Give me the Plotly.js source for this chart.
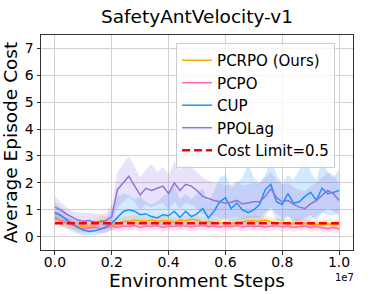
<!DOCTYPE html>
<html>
<head>
<meta charset="utf-8">
<script src="https://cdn.plot.ly/plotly-3.0.1.min.js"></script>
<style>html,body{margin:0;padding:0;background:#fff;}#chart{width:392px;height:294px;}</style>
</head>
<body>
<div id="chart"></div>
<script>
// Environment steps (x)
const steps = [0,2e5,4e5,6e5,8e5,1e6,1.2e6,1.4e6,1.6e6,1.8e6,2e6,2.2e6,2.4e6,2.6e6,2.8e6,3e6,3.2e6,3.4e6,3.6e6,3.8e6,4e6,4.2e6,4.4e6,4.6e6,4.8e6,5e6,5.2e6,5.4e6,5.6e6,5.8e6,6e6,6.2e6,6.4e6,6.6e6,6.8e6,7e6,7.2e6,7.4e6,7.6e6,7.8e6,8e6,8.2e6,8.4e6,8.6e6,8.8e6,9e6,9.2e6,9.4e6,9.6e6,9.8e6,1e7];

const seriesNames = ['PCRPO (Ours)','PCPO','CUP','PPOLag'];
const costLimit = 0.5;
const costLimitName = 'Cost Limit=0.5';

// PCRPO (Ours)
const pcrpoMean  = [0.7,0.62,0.5,0.45,0.4,0.38,0.35,0.45,0.6,0.58,0.42,0.5,0.58,0.58,0.62,0.6,0.58,0.62,0.58,0.6,0.6,0.55,0.62,0.6,0.65,0.62,0.55,0.58,0.52,0.5,0.52,0.48,0.55,0.55,0.6,0.6,0.58,0.62,0.55,0.5,0.52,0.48,0.5,0.48,0.5,0.45,0.47,0.45,0.48,0.45,0.47];
const pcrpoUpper = [0.95,0.85,0.7,0.62,0.58,0.55,0.52,0.62,0.78,0.76,0.6,0.68,0.76,0.76,0.8,0.78,0.75,0.8,0.76,0.78,0.78,0.72,0.8,0.78,0.82,0.8,0.72,0.76,0.7,0.68,0.7,0.66,0.72,0.72,0.78,0.78,0.76,0.8,0.72,0.68,0.7,0.66,0.68,0.66,0.68,0.62,0.65,0.63,0.66,0.62,0.64];
const pcrpoLower = [0.5,0.42,0.32,0.28,0.22,0.2,0.18,0.28,0.42,0.4,0.26,0.32,0.4,0.4,0.44,0.42,0.4,0.44,0.4,0.42,0.42,0.38,0.44,0.42,0.47,0.44,0.38,0.4,0.35,0.33,0.35,0.31,0.38,0.38,0.42,0.42,0.4,0.44,0.38,0.33,0.35,0.31,0.33,0.31,0.33,0.28,0.3,0.28,0.31,0.28,0.3];

// PCPO
const pcpoMean  = [0.7,0.6,0.55,0.45,0.35,0.3,0.32,0.35,0.3,0.32,0.4,0.35,0.4,0.38,0.42,0.35,0.4,0.38,0.42,0.35,0.4,0.38,0.42,0.4,0.37,0.4,0.42,0.38,0.4,0.36,0.4,0.38,0.42,0.36,0.4,0.38,0.4,0.36,0.38,0.42,0.36,0.4,0.35,0.38,0.4,0.35,0.38,0.34,0.3,0.35,0.28];
const pcpoUpper = [0.9,0.78,0.72,0.62,0.52,0.46,0.48,0.52,0.46,0.48,0.56,0.52,0.56,0.54,0.58,0.52,0.56,0.54,0.58,0.52,0.56,0.54,0.58,0.56,0.53,0.56,0.58,0.54,0.56,0.52,0.56,0.54,0.58,0.52,0.56,0.54,0.56,0.52,0.54,0.58,0.52,0.56,0.51,0.54,0.56,0.51,0.54,0.5,0.46,0.51,0.44];
const pcpoLower = [0.5,0.42,0.38,0.28,0.18,0.14,0.16,0.18,0.14,0.16,0.24,0.18,0.24,0.22,0.26,0.18,0.24,0.22,0.26,0.18,0.24,0.22,0.26,0.24,0.21,0.24,0.26,0.22,0.24,0.2,0.24,0.22,0.26,0.2,0.24,0.22,0.24,0.2,0.22,0.26,0.2,0.24,0.19,0.22,0.24,0.19,0.22,0.18,0.14,0.19,0.12];

// CUP
const cupMean  = [0.9,0.8,0.65,0.5,0.35,0.25,0.2,0.22,0.28,0.38,0.5,0.72,0.93,1.0,0.95,0.82,0.85,0.75,0.7,0.82,0.78,0.95,0.72,0.95,0.75,0.85,1.05,0.7,0.95,1.3,1.45,1.05,1.25,1.0,0.9,1.0,1.2,1.75,1.95,1.3,1.2,1.6,1.25,1.3,1.5,1.65,1.35,1.8,1.6,1.65,1.72];
const cupUpper = [1.3,1.1,0.9,0.75,0.6,0.5,0.45,0.45,0.55,0.7,1.0,1.5,1.6,1.55,1.4,1.5,1.3,1.2,1.3,1.5,1.6,1.9,1.4,1.6,1.4,1.6,1.8,1.3,1.7,2.2,2.3,1.8,2.0,2.2,2.7,2.2,2.0,2.3,2.9,2.3,2.0,2.3,2.1,2.5,3.0,2.4,2.1,2.9,2.4,2.2,2.5];
const cupLower = [0.6,0.45,0.3,0.2,0.1,0.05,0.05,0.05,0.1,0.15,0.25,0.35,0.5,0.55,0.5,0.45,0.45,0.4,0.35,0.4,0.35,0.45,0.3,0.45,0.35,0.4,0.5,0.3,0.4,0.6,0.7,0.5,0.6,0.5,0.4,0.4,0.5,0.8,1.0,0.6,0.5,0.8,0.5,0.6,0.7,0.8,0.6,0.9,0.8,0.8,0.9];

// PPOLag
const ppolagMean  = [1.1,1.0,0.85,0.72,0.62,0.58,0.6,0.55,0.56,0.6,0.75,1.75,2.0,2.25,1.9,1.55,1.8,1.72,1.8,1.88,1.6,2.0,1.72,1.95,1.88,1.72,1.5,1.42,1.35,1.3,1.25,1.28,1.35,1.22,1.25,1.3,1.3,1.5,1.78,1.45,1.3,1.35,1.2,1.1,1.05,1.22,1.35,1.55,1.72,1.6,1.35];
const ppolagUpper = [1.5,1.3,1.1,0.95,0.9,0.88,0.9,0.85,0.85,0.9,1.2,2.4,2.7,3.0,2.6,2.2,2.5,2.7,2.4,2.6,2.3,2.8,2.5,2.7,2.6,2.4,2.2,2.1,2.0,2.0,1.9,1.95,2.05,1.9,1.95,2.0,2.0,2.2,2.4,2.1,1.95,2.0,1.85,1.75,1.7,1.9,2.0,2.2,2.4,2.3,2.0];
const ppolagLower = [0.7,0.7,0.55,0.45,0.38,0.32,0.32,0.3,0.3,0.32,0.45,1.1,1.3,1.5,1.3,1.0,1.2,1.1,1.2,1.25,1.0,1.3,1.05,1.25,1.2,1.05,0.85,0.8,0.75,0.7,0.68,0.7,0.75,0.65,0.68,0.72,0.72,0.9,1.1,0.85,0.72,0.75,0.65,0.55,0.5,0.62,0.75,0.9,1.05,0.95,0.75];

// Axis ticks
const xTickVals = [0,2e6,4e6,6e6,8e6,1e7];
const xTickText = ['0.0','0.2','0.4','0.6','0.8','1.0'];
const yTickVals = [0,1,2,3,4,5,6,7];
const yTickText = ['0','1','2','3','4','5','6','7'];

const colors = ['#FFA500','#FF69B4','#1E90FF','#9370DB'];
const fills  = ['rgba(255,165,0,0.2)','rgba(255,105,180,0.2)','rgba(30,144,255,0.2)','rgba(147,112,219,0.2)'];
const means  = [pcrpoMean, pcpoMean, cupMean, ppolagMean];
const uppers = [pcrpoUpper, pcpoUpper, cupUpper, ppolagUpper];
const lowers = [pcrpoLower, pcpoLower, cupLower, ppolagLower];

const FONT = 'DejaVu Sans, sans-serif';
const traces = [];
for (let i = 0; i < 4; i++) {
  traces.push({
    x: steps.concat(steps.slice().reverse()),
    y: uppers[i].concat(lowers[i].slice().reverse()),
    type: 'scatter', mode: 'lines', fill: 'toself',
    fillcolor: fills[i], line: {width: 0, color: fills[i]},
    showlegend: false, hoverinfo: 'skip'
  });
}
for (let i = 0; i < 4; i++) {
  traces.push({
    x: steps, y: means[i], type: 'scatter', mode: 'lines',
    name: seriesNames[i], line: {color: colors[i], width: 1.5}
  });
}
traces.push({
  x: [steps[0], steps[steps.length-1]], y: [costLimit, costLimit],
  type: 'scatter', mode: 'lines', name: costLimitName,
  line: {color: '#FF0000', width: 2.5, dash: '8px,4px'}
});

const layout = {
  width: 392, height: 294,
  margin: {l: 41, r: 39, t: 35, b: 44},
  paper_bgcolor: '#fff', plot_bgcolor: '#fff',
  font: {family: FONT, color: '#000'},
  title: {text: 'SafetyAntVelocity-v1', font: {family: FONT, size: 18.5, color: '#000'},
          x: 0.5, xref: 'paper', y: 1 - 17/294, yref: 'container', yanchor: 'middle'},
  xaxis: {
    range: [-4.9e5, 1.049e7], tickvals: xTickVals, ticktext: xTickText,
    showline: true, mirror: true, linecolor: '#333', linewidth: 1,
    ticks: 'outside', ticklen: 3.5, tickcolor: '#333', ticklabelstandoff: -4,
    showgrid: true, gridcolor: '#d0d0d0', gridwidth: 1, zeroline: false,
    tickfont: {size: 14, family: FONT, color: '#000'},
    title: {text: 'Environment Steps', font: {size: 18.5, family: FONT, color: '#000'}, standoff: 0}
  },
  yaxis: {
    range: [-0.49, 7.49], tickvals: yTickVals, ticktext: yTickText,
    showline: true, mirror: true, linecolor: '#333', linewidth: 1,
    ticks: 'outside', ticklen: 3.5, tickcolor: '#333',
    showgrid: true, gridcolor: '#d0d0d0', gridwidth: 1, zeroline: false,
    tickfont: {size: 14, family: FONT, color: '#000'},
    title: {text: 'Average Episode Cost', font: {size: 18.5, family: FONT, color: '#000'}, standoff: 2}
  },
  legend: {
    x: 0.433, y: 0.963, xanchor: 'left', yanchor: 'top',
    bgcolor: 'rgba(255,255,255,0.8)', bordercolor: '#cccccc', borderwidth: 1,
    font: {size: 15, family: FONT, color: '#000'}
  },
  annotations: [{
    text: '1e7', xref: 'paper', yref: 'paper', x: 0.974, y: -0.127,
    xanchor: 'center', yanchor: 'middle', showarrow: false,
    font: {size: 10, family: FONT, color: '#000'}
  }],
  showlegend: true
};

Plotly.newPlot('chart', traces, layout, {staticPlot: true, displayModeBar: false});
</script>
</body>
</html>
